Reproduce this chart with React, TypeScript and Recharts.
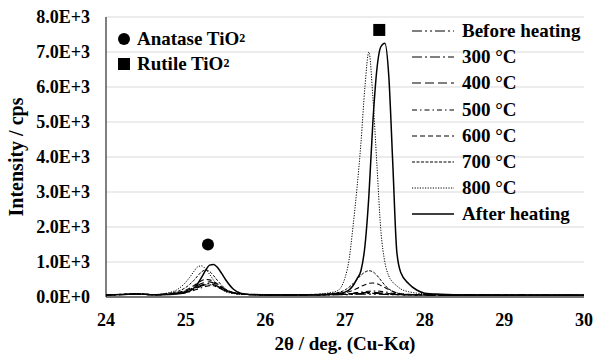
import { ComposedChart, Line, XAxis, YAxis, CartesianGrid, ReferenceDot } from 'recharts';

// 2θ positions (deg) shared by all scans
const twoTheta = [
  24.0, 24.2, 24.4, 24.6, 24.8, 24.9, 25.0, 25.05, 25.1, 25.15,
  25.2, 25.25, 25.3, 25.35, 25.4, 25.45, 25.5, 25.6, 25.7, 25.8,
  26.0, 26.2, 26.4, 26.6, 26.8, 26.9, 27.0, 27.05, 27.1, 27.15,
  27.2, 27.25, 27.3, 27.35, 27.4, 27.45, 27.5, 27.55, 27.6, 27.65,
  27.7, 27.8, 27.9, 28.0, 28.2, 28.5, 29.0, 29.5, 30.0,
];

const beforeHeating = [
  60, 75, 90, 65, 80, 100, 140, 170, 215, 265,
  315, 345, 350, 325, 280, 225, 175, 110, 80, 70,
  60, 60, 55, 60, 60, 65, 70, 70, 75, 80,
  80, 85, 85, 85, 80, 80, 75, 70, 70, 65,
  65, 60, 60, 60, 55, 55, 50, 55, 50,
];
const at300 = [
  55, 70, 85, 60, 85, 110, 150, 190, 240, 290,
  340, 370, 380, 355, 305, 245, 185, 115, 80, 70,
  60, 60, 60, 60, 65, 70, 75, 80, 85, 90,
  95, 100, 105, 105, 100, 95, 90, 80, 75, 70,
  65, 60, 60, 55, 55, 55, 50, 50, 50,
];
const at400 = [
  60, 70, 85, 65, 90, 120, 170, 215, 270, 330,
  385, 420, 430, 400, 345, 275, 205, 125, 85, 70,
  60, 60, 60, 65, 70, 75, 85, 90, 100, 110,
  120, 125, 130, 130, 125, 115, 105, 95, 85, 75,
  70, 65, 60, 60, 55, 55, 55, 50, 50,
];
const at500 = [
  55, 65, 80, 60, 80, 95, 125, 150, 185, 225,
  265, 300, 325, 320, 290, 240, 185, 115, 80, 70,
  60, 55, 60, 60, 65, 75, 85, 95, 110, 125,
  140, 155, 165, 170, 170, 160, 145, 125, 105, 90,
  80, 70, 65, 60, 55, 55, 50, 50, 50,
];
const at600 = [
  60, 70, 85, 65, 95, 130, 195, 250, 320, 400,
  465, 500, 490, 440, 370, 290, 210, 125, 85, 70,
  60, 60, 60, 65, 75, 90, 120, 150, 190, 240,
  300, 350, 390, 400, 380, 330, 270, 210, 160, 120,
  95, 75, 65, 60, 55, 55, 55, 50, 50,
];
const at700 = [
  60, 75, 90, 70, 110, 160, 270, 360, 470, 600,
  720, 770, 730, 610, 470, 340, 230, 130, 85, 70,
  60, 60, 65, 75, 95, 120, 200, 280, 380, 500,
  620, 710, 750, 720, 620, 480, 340, 230, 160, 115,
  90, 70, 65, 60, 55, 55, 50, 50, 50,
];
const at800 = [
  55, 70, 85, 70, 130, 220, 420, 560, 720, 860,
  890, 800, 650, 480, 330, 220, 150, 100, 80, 70,
  60, 60, 65, 70, 120, 170, 550, 1050, 2000, 3100,
  4400, 6000, 7000, 5700, 3800, 1900, 1000, 600, 420, 320,
  230, 150, 110, 90, 70, 60, 55, 55, 50,
];
const afterHeating = [
  60, 75, 85, 65, 70, 90, 130, 170, 250, 380,
  560, 760, 910, 930, 840, 680, 500, 220, 100, 75,
  65, 60, 60, 65, 80, 100, 140, 200, 320, 520,
  750, 1450, 2900, 5000, 6500, 7150, 7250, 6300, 3800, 1300,
  700, 380, 200, 110, 80, 60, 60, 55, 55,
];

const xTicks = [24, 25, 26, 27, 28, 29, 30];
const yTicks = [0, 1000, 2000, 3000, 4000, 5000, 6000, 7000, 8000];

// phase markers: [2θ, intensity]
const anatasePeak = [25.28, 1500];
const rutilePeak = [27.43, 7630];

const series = [
  { key: 'before', name: 'Before heating', values: beforeHeating, dash: '10 3 2 3 2 3', width: 1.2 },
  { key: 't300', name: '300 °C', values: at300, dash: '10 3 2 3', width: 1.2 },
  { key: 't400', name: '400 °C', values: at400, dash: '9 4', width: 1.2 },
  { key: 't500', name: '500 °C', values: at500, dash: '5 3 1.5 3', width: 1.1 },
  { key: 't600', name: '600 °C', values: at600, dash: '5 3', width: 1.1 },
  { key: 't700', name: '700 °C', values: at700, dash: '3 1.5', width: 1 },
  { key: 't800', name: '800 °C', values: at800, dash: '1.2 1.4', width: 1 },
  { key: 'after', name: 'After heating', values: afterHeating, dash: undefined, width: 1.5 },
];

const data = twoTheta.map((x, i) => {
  const row: Record<string, number> = { x };
  series.forEach((s) => (row[s.key] = s.values[i]));
  return row;
});

const font = '"Liberation Serif", "Times New Roman", serif';

const fmtSci = (v: number) => {
  if (v === 0) return '0.0E+0';
  const e = Math.floor(Math.log10(v));
  return `${(v / Math.pow(10, e)).toFixed(1)}E+${e}`;
};

const Square = (props: any) => {
  const { cx, cy } = props;
  return <rect x={cx - 6} y={cy - 6} width={12} height={12} fill="#000" />;
};

export default function App() {
  return (
    <div style={{ position: 'absolute', left: 0, top: 0, width: 593, height: 356, background: '#fff', fontFamily: font, fontWeight: 'bold', color: '#000' }}>
      <ComposedChart width={593} height={356} data={data} margin={{ top: 17, right: 9, bottom: 0, left: 0 }}>
        <CartesianGrid vertical={false} stroke="#d9d9d9" />
        <XAxis
          dataKey="x"
          type="number"
          domain={[24, 30]}
          ticks={xTicks}
          height={59}
          tickLine={false}
          tickSize={6}
          tickMargin={10}
          axisLine={{ stroke: '#000' }}
          tick={{ fill: '#000', fontSize: 18, fontWeight: 'bold', fontFamily: font }}
          label={{ value: '2θ / deg. (Cu-Kα)', position: 'insideBottom', offset: 6, fill: '#000', fontSize: 19, fontWeight: 'bold', fontFamily: font }}
        />
        <YAxis
          type="number"
          domain={[0, 8000]}
          ticks={yTicks}
          width={106}
          tickLine={false}
          tickSize={6}
          tickMargin={10}
          axisLine={{ stroke: '#000' }}
          tickFormatter={fmtSci}
          tick={{ fill: '#000', fontSize: 18, fontWeight: 'bold', fontFamily: font }}
          label={{ value: 'Intensity / cps', angle: -90, position: 'insideLeft', offset: 16, fill: '#000', fontSize: 20, fontWeight: 'bold', fontFamily: font, style: { textAnchor: 'middle' } }}
        />
        {series.map((s) => (
          <Line
            key={s.key}
            dataKey={s.key}
            type="monotone"
            stroke="#000"
            strokeWidth={s.width}
            strokeDasharray={s.dash}
            dot={false}
            activeDot={false}
            isAnimationActive={false}
          />
        ))}
        <ReferenceDot x={anatasePeak[0]} y={anatasePeak[1]} r={6} fill="#000" stroke="none" />
        <ReferenceDot x={rutilePeak[0]} y={rutilePeak[1]} r={6} shape={Square} />
      </ComposedChart>

      {/* phase key, top left of the plot */}
      <div style={{ position: 'absolute', left: 118, top: 26, fontSize: 19, lineHeight: '25px' }}>
        <div style={{ display: 'flex', alignItems: 'center' }}>
          <span style={{ display: 'inline-block', width: 12, height: 12, borderRadius: 6, background: '#000', marginRight: 7 }} />
          Anatase TiO<sub style={{ fontSize: 12, verticalAlign: -4 }}>2</sub>
        </div>
        <div style={{ display: 'flex', alignItems: 'center' }}>
          <span style={{ display: 'inline-block', width: 12, height: 12, background: '#000', marginRight: 7 }} />
          Rutile TiO<sub style={{ fontSize: 12, verticalAlign: -4 }}>2</sub>
        </div>
      </div>

      {/* line-style legend */}
      <div style={{ position: 'absolute', left: 410, top: 18, fontSize: 19 }}>
        {series.map((s) => (
          <div key={s.key} style={{ display: 'flex', alignItems: 'center', height: 26.2 }}>
            <svg width={48} height={10} style={{ marginRight: 4 }}>
              <line x1={2} y1={5} x2={44} y2={5} stroke="#000" strokeWidth={s.width} strokeDasharray={s.dash} />
            </svg>
            <span>{s.name}</span>
          </div>
        ))}
      </div>
    </div>
  );
}
